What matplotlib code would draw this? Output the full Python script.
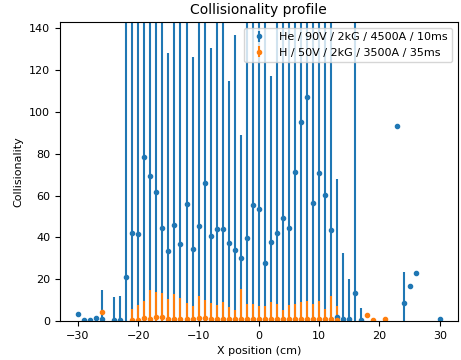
import matplotlib
matplotlib.use("Agg")
import matplotlib.pyplot as plt

he_x = [-30, -29, -28, -27, -26, -24, -23, -22, -21, -20, -19, -18, -17, -16, -15,
        -14, -13, -12, -11, -10, -9, -8, -7, -6, -5, -4, -3, -2, -1, 0, 1, 2, 3,
        4, 5, 6, 7, 8, 9, 10, 11, 12, 13, 14, 15, 16, 17, 23, 24, 25, 26, 30]
he_y = [3.3, 0.3, 0.5, 1.7, 0.8, 0.5, 0.5, 21.2, 42.1, 41.8, 78.5, 69.4, 61.5, 44.3, 33.5,
        45.9, 37.0, 56.1, 34.4, 45.6, 66.0, 40.5, 44.0, 44.0, 37.5, 33.8, 30.3, 39.9, 55.3, 53.4, 27.9, 37.7, 42.3,
        49.1, 44.6, 71.4, 95.2, 107.3, 56.6, 70.8, 60.4, 43.7, 2.1, 0.8, 0.8, 13.6, 0.3, 93.3, 8.8, 16.6, 23.0, 1.0]
he_err = [0, 0, 0, 0, 14.2, 10.9, 11.7, 200, 200, 200, 200, 200, 200, 200, 94.5,
          200, 200, 200, 92, 200, 200, 90, 200, 200, 77.3, 103, 58.5, 200, 200, 200, 200, 79.5, 200,
          200, 200, 200, 200, 200, 200, 200, 200, 200, 66, 32, 19.2, 200, 6.1, 0, 14.5, 0, 0, 0]

h_x = [-26, -21, -20, -19, -18, -17, -16, -15, -14, -13, -12, -11, -10, -9, -8, -7, -6, -5,
       -4, -3, -2, -1, 0, 1, 2, 3, 4, 5, 6, 7, 8, 9, 10, 11, 12, 13, 18, 19, 21]
h_y = [4.2, 0.3, 0.5, 1.7, 1.1, 1.9, 2.0, 0.9, 1.1, 1.0, 1.0, 1.0, 1.5, 1.3, 1.0, 1.0, 1.0, 0.8,
       0.8, 1.2, 1.0, 1.0, 1.0, 1.0, 1.2, 1.0, 0.8, 1.0, 1.0, 1.2, 1.0, 1.0, 0.8, 0.8, 0.8, 0.3, 2.7, 0.6, 0.8]
h_err = [0.5, 5.5, 7.1, 8.0, 13.9, 12.1, 11.5, 9.6, 11.9, 10.1, 7.9, 6.3, 10.5, 8.7, 7.5, 6.7, 8.3, 6.1,
         4.6, 14.1, 7.3, 7.1, 6.0, 6.0, 7.8, 7.0, 4.6, 6.8, 7.4, 8.0, 8.6, 7.3, 8.8, 4.9, 11.3, 7.0, 0, 0, 0]

fig = plt.figure(figsize=(4.61, 3.6), dpi=100)
ax = fig.add_axes([0.130, 0.108, 0.863, 0.831])
ax.errorbar(he_x, he_y, yerr=he_err, fmt='o', ms=3, label='He / 90V / 2kG / 4500A / 10ms')
ax.errorbar(h_x, h_y, yerr=h_err, fmt='o', ms=3, label='H / 50V / 2kG / 3500A / 35ms')
ax.set_ylim(0, 143)
ax.set_xlabel('X position (cm)', fontsize=8)
ax.set_ylabel('Collisionality', fontsize=8)
ax.set_title('Collisionality profile', fontsize=10)
ax.tick_params(labelsize=8)
ax.legend(fontsize=8, loc='upper right')
fig.savefig('out.png', dpi=100)
